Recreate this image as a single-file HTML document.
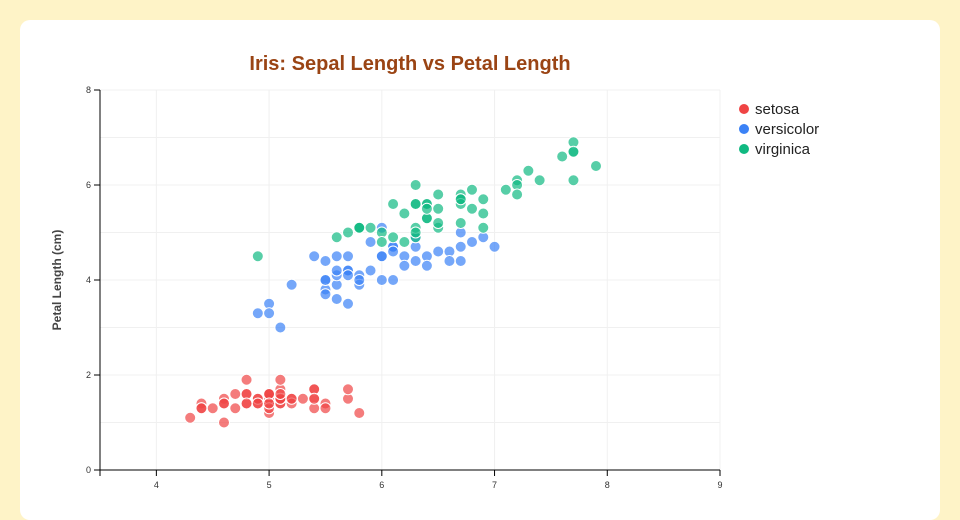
<!DOCTYPE html>
<html><head><meta charset="utf-8"><style>
body{margin:0;background:#fef3c7;width:960px;height:500px;overflow:hidden;font-family:"Liberation Sans",sans-serif}
#card{position:absolute;left:20px;top:20px;width:920px;height:500px;background:#fff;border-radius:10px}
</style></head><body>
<div id="card"></div>
<svg id="chart" width="960" height="500" style="position:absolute;left:0;top:0">
<text x="410" y="70" text-anchor="middle" font-size="20" font-weight="bold" fill="#9a4414">Iris: Sepal Length vs Petal Length</text>
<text transform="translate(61,280) rotate(-90)" text-anchor="middle" font-size="12" font-weight="bold" fill="#444">Petal Length (cm)</text>
<g id="grid"></g><g id="axes"></g><g id="pts"></g><g id="legend"></g>
</svg>
<script>
const species=["setosa","versicolor","virginica"];
const colors=["#ef4444","#3b82f6","#10b981"];
const setosaSL=[5.1,4.9,4.7,4.6,5.0,5.4,4.6,5.0,4.4,4.9,5.4,4.8,4.8,4.3,5.8,5.7,5.4,5.1,5.7,5.1,5.4,5.1,4.6,5.1,4.8,5.0,5.0,5.2,5.2,4.7,4.8,5.4,5.2,5.5,4.9,5.0,5.5,4.9,4.4,5.1,5.0,4.5,4.4,5.0,5.1,4.8,5.1,4.6,5.3,5.0];
const setosaPL=[1.4,1.4,1.3,1.5,1.4,1.7,1.4,1.5,1.4,1.5,1.5,1.6,1.4,1.1,1.2,1.5,1.3,1.4,1.7,1.5,1.7,1.5,1.0,1.7,1.9,1.6,1.6,1.5,1.4,1.6,1.6,1.5,1.5,1.4,1.5,1.2,1.3,1.4,1.3,1.5,1.3,1.3,1.3,1.6,1.9,1.4,1.6,1.4,1.5,1.4];
const versicolorSL=[7.0,6.4,6.9,5.5,6.5,5.7,6.3,4.9,6.6,5.2,5.0,5.9,6.0,6.1,5.6,6.7,5.6,5.8,6.2,5.6,5.9,6.1,6.3,6.1,6.4,6.6,6.8,6.7,6.0,5.7,5.5,5.5,5.8,6.0,5.4,6.0,6.7,6.3,5.6,5.5,5.5,6.1,5.8,5.0,5.6,5.7,5.7,6.2,5.1,5.7];
const versicolorPL=[4.7,4.5,4.9,4.0,4.6,4.5,4.7,3.3,4.6,3.9,3.5,4.2,4.0,4.7,3.6,4.4,4.5,4.1,4.5,3.9,4.8,4.0,4.9,4.7,4.3,4.4,4.8,5.0,4.5,3.5,3.8,3.7,3.9,5.1,4.5,4.5,4.7,4.4,4.1,4.0,4.4,4.6,4.0,3.3,4.2,4.2,4.2,4.3,3.0,4.1];
const virginicaSL=[6.3,5.8,7.1,6.3,6.5,7.6,4.9,7.3,6.7,7.2,6.5,6.4,6.8,5.7,5.8,6.4,6.5,7.7,7.7,6.0,6.9,5.6,7.7,6.3,6.7,7.2,6.2,6.1,6.4,7.2,7.4,7.9,6.4,6.3,6.1,7.7,6.3,6.4,6.0,6.9,6.7,6.9,5.8,6.8,6.7,6.7,6.3,6.5,6.2,5.9];
const virginicaPL=[6.0,5.1,5.9,5.6,5.8,6.6,4.5,6.3,5.8,6.1,5.1,5.3,5.5,5.0,5.1,5.3,5.5,6.7,6.9,5.0,5.7,4.9,6.7,4.9,5.7,6.0,4.8,4.9,5.6,5.8,6.1,6.4,5.6,5.1,5.6,6.1,5.6,5.5,4.8,5.4,5.6,5.1,5.1,5.9,5.7,5.2,5.0,5.2,5.4,5.1];
const xTicks=[4,5,6,7,8,9];
const yTicks=[0,2,4,6,8];
const X0=100,X1=720,Y0=470,Y1=90,xMin=3.5,xMax=9,yMin=0,yMax=8;
const sx=v=>X0+(v-xMin)/(xMax-xMin)*(X1-X0);
const sy=v=>Y0-(v-yMin)/(yMax-yMin)*(Y0-Y1);
const NS="http://www.w3.org/2000/svg";
function mk(t,a,p){const e=document.createElementNS(NS,t);for(const k in a)e.setAttribute(k,a[k]);p.appendChild(e);return e;}
const grid=document.getElementById('grid'),axes=document.getElementById('axes'),pts=document.getElementById('pts'),leg=document.getElementById('legend');
for(let v=4;v<=9;v++){const l=mk('line',{x1:sx(v),x2:sx(v),y1:Y1,y2:Y0,stroke:'#f0f0f0'},grid);

}
for(let v=1;v<=8;v++){const l=mk('line',{x1:X0,x2:X1,y1:sy(v),y2:sy(v),stroke:'#f0f0f0'},grid);

}
mk('line',{x1:X0,x2:X1,y1:Y0,y2:Y0,stroke:'#000'},axes);
mk('line',{x1:X0,x2:X0,y1:Y1,y2:Y0,stroke:'#000'},axes);
mk('line',{x1:X0,x2:X0,y1:Y0,y2:Y0+6,stroke:'#000'},axes);
xTicks.forEach(v=>{mk('line',{x1:sx(v),x2:sx(v),y1:Y0,y2:Y0+6,stroke:'#000'},axes);
const t=mk('text',{x:sx(v),y:Y0+18,'text-anchor':'middle','font-size':9,fill:'#333'},axes);t.textContent=v;

});
yTicks.forEach(v=>{mk('line',{x1:X0-6,x2:X0,y1:sy(v),y2:sy(v),stroke:'#000'},axes);
const t=mk('text',{x:X0-9,y:sy(v)+3,'text-anchor':'end','font-size':9,fill:'#333'},axes);t.textContent=v;

});
const SL=[setosaSL,versicolorSL,virginicaSL],PL=[setosaPL,versicolorPL,virginicaPL];
species.forEach((s,i)=>{SL[i].forEach((x,j)=>{const c=mk('circle',{cx:sx(x),cy:sy(PL[i][j]),r:5.5,fill:colors[i],'fill-opacity':0.7,stroke:'#fff','stroke-width':1},pts);

});
const g=mk('g',{},leg);


mk('circle',{cx:744,cy:109+i*20,r:5,fill:colors[i]},g);
const t=mk('text',{x:755,y:114+i*20,'font-size':15,fill:'#222'},g);t.textContent=s;});
</script>
</body></html>
